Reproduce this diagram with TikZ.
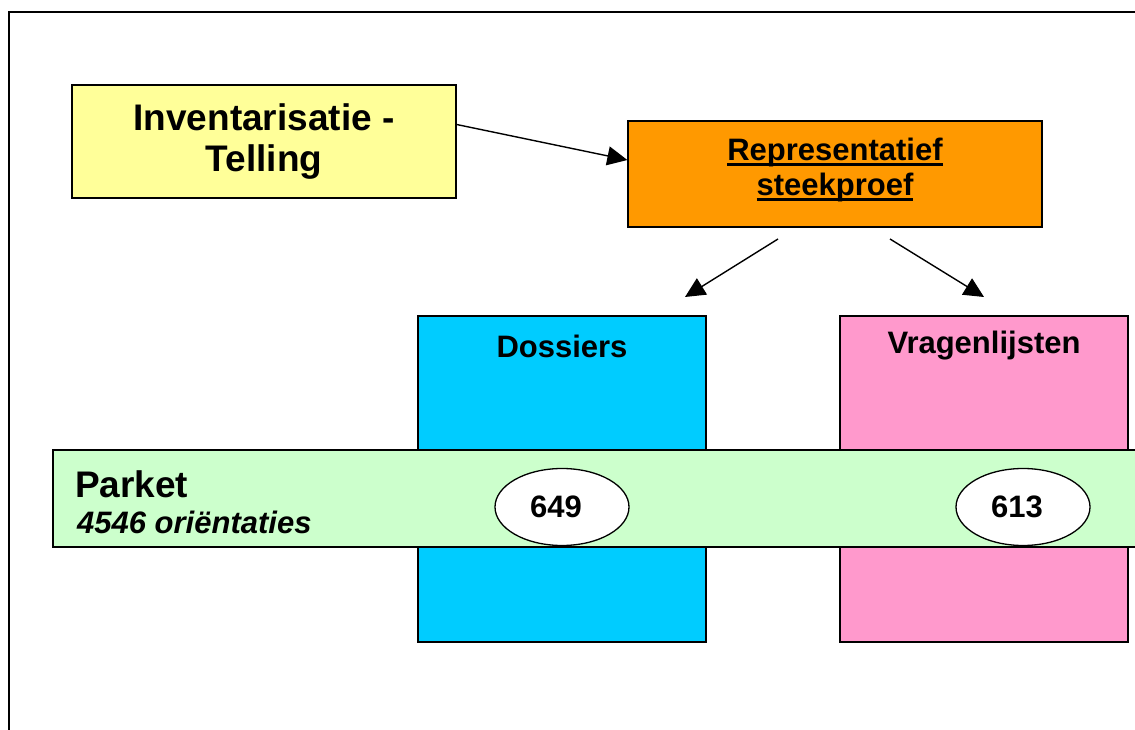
\documentclass[tikz,border=0pt]{standalone}
\usepackage{fontspec}
\setmainfont{Liberation Sans}
\usetikzlibrary{arrows.meta,shapes.geometric}
\definecolor{cyellow}{HTML}{FFFF99}
\definecolor{corange}{HTML}{FF9900}
\definecolor{ccyan}{HTML}{00CCFF}
\definecolor{cpink}{HTML}{FF99CC}
\definecolor{cgreen}{HTML}{CCFFCC}
\newcommand\myul[1]{\setbox0\hbox{#1}\rlap{\rule[-5pt]{\wd0}{2.6pt}}\box0}
\tikzset{
  box/.style={draw=black, line width=1.3pt, inner sep=0pt},
  big/.style={font=\fontsize{37}{41}\selectfont\bfseries},
  mid/.style={font=\fontsize{31}{36}\selectfont\bfseries},
  conn/.style={line width=1.4pt, -{Triangle[length=20pt,width=19pt]}},
}
\begin{document}
\begin{tikzpicture}[x=1pt,y=1pt]
\clip (0,0) rectangle (1135,729);
\useasboundingbox (0,0) rectangle (1135,729);
% frame
\draw[line width=1.6pt] (9,-20) -- (9,717) -- (1160,717);
% boxes
\node[box, fill=cyellow, minimum width=384pt, minimum height=113pt] (yellow) at (264,587.5) {};
\node[big, align=center] (ytext) at (264,587.5) {Inventarisatie -\\Telling};
\node[box, fill=corange, minimum width=414pt, minimum height=106pt] (orange) at (835,555) {};
\node[mid, align=center] (otext) at (835,559) {\myul{Representatief}\\[-1pt]\myul{steekproef}};
\node[box, fill=ccyan, minimum width=288pt, minimum height=326pt] (dossiers) at (562,250) {};
\node[box, fill=cpink, minimum width=288pt, minimum height=326pt] (vragen) at (984,250) {};
\node[mid] (dlabel) at (562,383) {Dossiers};
\node[mid] (vlabel) at (984,383) {Vragenlijsten};
\node[box, fill=cgreen, minimum width=1117pt, minimum height=97pt] (parket) at (611.5,230.5) {};
\node[big, anchor=west, inner sep=0pt] (ptitle) at (75,245) {Parket};
\node[mid, anchor=west, inner sep=0pt] (psub) at (77,207) {\itshape 4546 oriëntaties};
\node[box, ellipse, fill=white, minimum width=134pt, minimum height=77pt, mid] (e1) at (562,222) {649\kern12pt};
\node[box, ellipse, fill=white, minimum width=134pt, minimum height=77pt, mid] (e2) at (1023,222) {613\kern12pt};
% connectors
\coordinate (a1s) at (778,490);
\coordinate (a1e) at (685,432);
\coordinate (a2s) at (890,490);
\coordinate (a2e) at (984,432);
\draw[conn] ([yshift=17pt]yellow.east) -- ([yshift=14pt]orange.west);
\draw[conn] (a1s) -- (a1e);
\draw[conn] (a2s) -- (a2e);
\end{tikzpicture}
\end{document}
